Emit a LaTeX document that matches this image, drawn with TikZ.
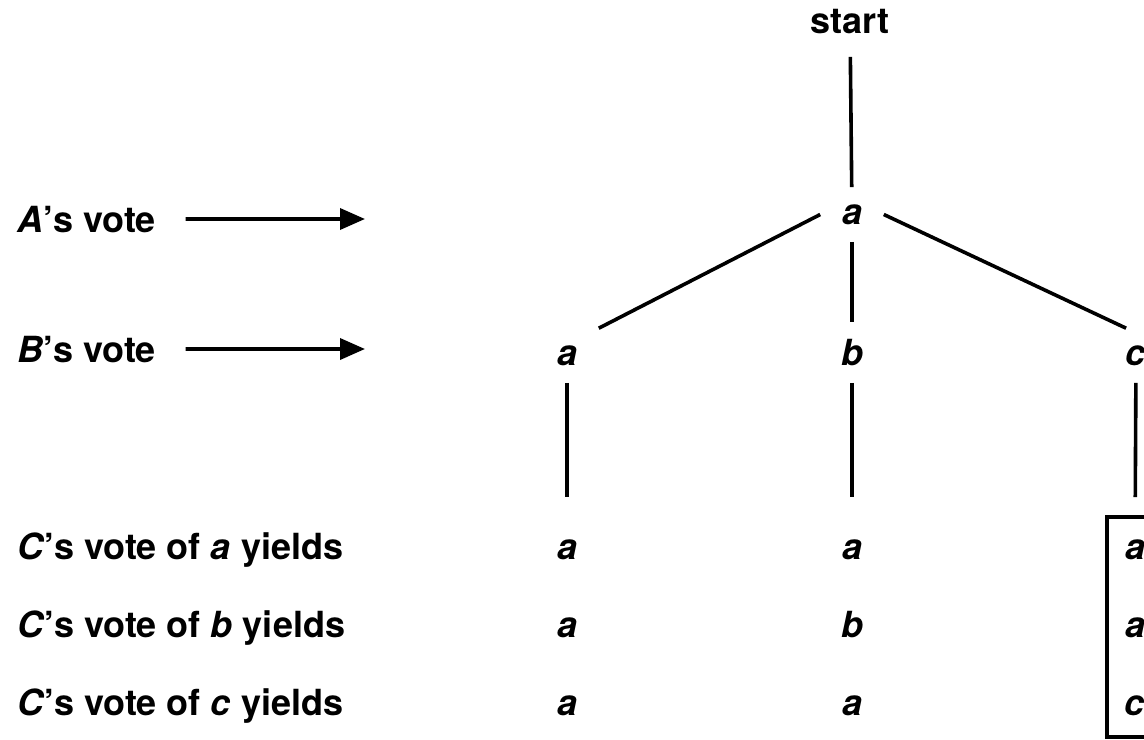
\documentclass[tikz,border=0pt]{standalone}
\usepackage{fontspec}
\setmainfont{TeX Gyre Heros}
\usetikzlibrary{arrows.meta}
\newcommand{\ltr}[1]{\textit{#1}}

\begin{document}
\begin{tikzpicture}[x=.5pt,y=-.5pt,line width=1.8pt,
  font=\bfseries\fontsize{18}{22}\selectfont,
  rowlabel/.style={anchor=base west,inner sep=0pt},
  pick/.style={anchor=base,inner xsep=10pt,inner ysep=8pt,text height=9.5pt,text depth=0pt},
  votearrow/.style={-{Triangle[length=12.5pt,width=10.5pt]},shorten <=14pt},
  branch/.style={shorten >=12.5pt}]
\path[use as bounding box] (0,0) rectangle (1144,739);
\node[pick] (start) at (850,33) {start};
\node[pick] (A) at (852,224) {\ltr{a}};
\node[pick] (Ba) at (567,365) {\ltr{a}};
\node[pick] (Bb) at (852,365) {\ltr{b}};
\node[pick] (Bc) at (1136,365) {\ltr{c}};
\node[pick] (Caa) at (567,559) {\ltr{a}};
\node[pick] (Cba) at (852,559) {\ltr{a}};
\node[pick] (Cca) at (1135,559) {\ltr{a}};
\node[pick] (Cab) at (567,637) {\ltr{a}};
\node[pick] (Cbb) at (852,637) {\ltr{b}};
\node[pick] (Ccb) at (1135,637) {\ltr{a}};
\node[pick] (Cac) at (567,715) {\ltr{a}};
\node[pick] (Cbc) at (852,715) {\ltr{a}};
\node[pick] (Ccc) at (1135,715) {\ltr{c}};
\node[rowlabel] (lA) at (16,232) {\ltr{A}’s vote};
\node[rowlabel] (lB) at (16,362) {\ltr{B}’s vote};
\node[rowlabel] (lCa) at (16,559) {\ltr{C}’s vote of \ltr{a} yields};
\node[rowlabel] (lCb) at (16,637) {\ltr{C}’s vote of \ltr{b} yields};
\node[rowlabel] (lCc) at (16,715) {\ltr{C}’s vote of \ltr{c} yields};
\coordinate (tA) at (365,219);
\coordinate (tB) at (365,349);
\draw[votearrow] (lA.east) -- (tA);
\draw[votearrow] (lB.east) -- (tB);
\draw[shorten <=3pt] (start) -- (A);
\draw (A.west) -- (Ba.north east);
\draw[shorten >=3pt] (A) -- (Bb);
\draw (A.east) -- (Bc.110);
\draw[branch] (Ba) -- (Caa);
\draw[branch] (Bb) -- (Cba);
\draw[branch] (Bc) -- (Cca);
\draw (1107,517) rectangle (1180,737);
\end{tikzpicture}
\end{document}
